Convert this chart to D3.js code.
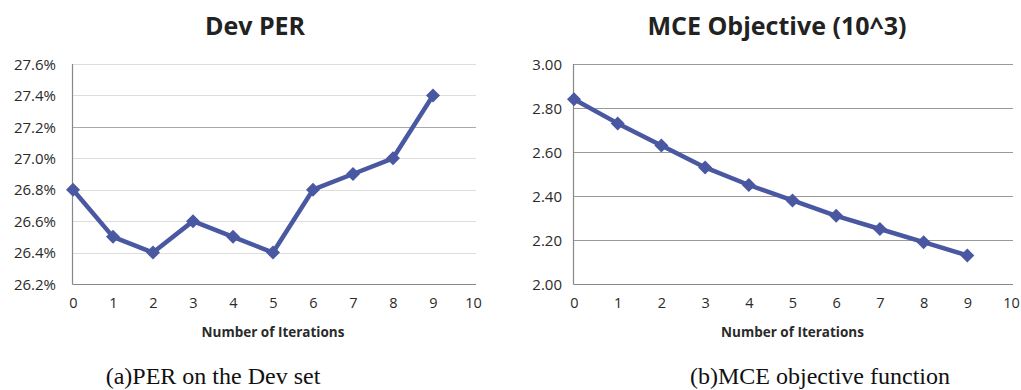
<!DOCTYPE html>
<html>
<head>
<meta charset="utf-8">
<script src="https://cdn.jsdelivr.net/npm/d3@7"></script>
<style>
  html, body { margin: 0; padding: 0; background: #fff; }
  svg { display: block; }
</style>
</head>
<body>
<svg id="chart" width="1021" height="390"></svg>
<script>
// Iteration index shared by both panels
const iterations = [0, 1, 2, 3, 4, 5, 6, 7, 8, 9];
const xTicks = [0, 1, 2, 3, 4, 5, 6, 7, 8, 9, 10];

// Dev-set phone error rate (%) per iteration
const devPER = [26.8, 26.5, 26.4, 26.6, 26.5, 26.4, 26.8, 26.9, 27.0, 27.4];
const perTicks = [26.2, 26.4, 26.6, 26.8, 27.0, 27.2, 27.4, 27.6];

// MCE objective (x10^3) per iteration
const mceObjective = [2.84, 2.73, 2.63, 2.53, 2.45, 2.38, 2.31, 2.25, 2.19, 2.13];
const mceTicks = [2.0, 2.2, 2.4, 2.6, 2.8, 3.0];

const svg = d3.select("#chart");
const lineColor = "#4a58a2";
const uiFont = "'Open Sans', 'DejaVu Sans', sans-serif";

function panel(opts) {
  const g = svg.append("g");
  const x = d3.scaleLinear().domain([0, 10]).range(opts.xRange);
  const y = d3.scaleLinear().domain(opts.yDomain).range([284, 64]);

  // horizontal gridlines
  g.selectAll("line.grid").data(opts.yTicks.slice(1)).join("line")
    .attr("class", "grid")
    .attr("x1", opts.xRange[0]).attr("x2", opts.gridEnd)
    .attr("y1", d => Math.round(y(d)) + 0.5).attr("y2", d => Math.round(y(d)) + 0.5)
    .attr("stroke", (d, i) => opts.gridColor(d, i))
    .attr("stroke-width", 1);

  // y axis
  const yAxis = d3.axisLeft(y).tickValues(opts.yTicks).tickSize(0).tickPadding(0)
    .tickFormat(opts.yFormat);
  const ya = g.append("g").attr("transform", `translate(${opts.yLabelX},0)`).call(yAxis);
  ya.select(".domain").remove();
  ya.selectAll("text").attr("font-family", uiFont).attr("font-size", 15)
    .attr("fill", "#2a2a2a").attr("dy", "0.35em");

  // axis lines
  g.append("line").attr("x1", opts.xRange[0] - 0.5).attr("x2", opts.xRange[0] - 0.5)
    .attr("y1", 64).attr("y2", 284.5).attr("stroke", "#888").attr("stroke-width", 1.2);
  g.append("line").attr("x1", opts.xRange[0] - 0.5).attr("x2", opts.gridEnd)
    .attr("y1", 284.5).attr("y2", 284.5).attr("stroke", "#888").attr("stroke-width", 1.2);

  // x axis labels
  const xAxis = d3.axisBottom(x).tickValues(xTicks).tickSize(0).tickPadding(0)
    .tickFormat(d3.format("d"));
  const xa = g.append("g").attr("transform", "translate(0,298)").call(xAxis);
  xa.select(".domain").remove();
  xa.selectAll("text").attr("font-family", uiFont).attr("font-size", 14.5)
    .attr("fill", "#2a2a2a").attr("dy", "0.71em");

  // x axis title
  g.append("text").attr("x", (opts.xRange[0] + opts.xRange[1]) / 2).attr("y", 337)
    .attr("text-anchor", "middle").attr("font-family", uiFont)
    .attr("font-weight", "bold").attr("font-size", 13.5).attr("fill", "#2a2a2a")
    .text("Number of Iterations");

  // chart title
  g.append("text").attr("x", opts.titleX).attr("y", 35)
    .attr("text-anchor", "middle").attr("font-family", uiFont)
    .attr("font-weight", "bold").attr("font-size", 25).attr("fill", "#222")
    .text(opts.title);

  // caption below the chart
  g.append("text").attr("x", opts.captionX).attr("y", 384)
    .attr("text-anchor", "middle").attr("font-family", "'Liberation Serif', 'Times New Roman', serif")
    .attr("font-size", 24).attr("fill", "#111")
    .text(opts.caption);

  // series line
  const pts = iterations.map((it, i) => [it, opts.values[i]]);
  g.append("path").datum(pts)
    .attr("d", d3.line().x(d => x(d[0])).y(d => y(d[1])))
    .attr("fill", "none").attr("stroke", lineColor).attr("stroke-width", 4.5)
    .attr("stroke-linejoin", "round");

  // diamond markers
  g.selectAll("path.mk").data(pts).join("path")
    .attr("class", "mk")
    .attr("d", d3.symbol().type(d3.symbolDiamond2).size(125))
    .attr("transform", d => `translate(${x(d[0])},${y(d[1])})`)
    .attr("fill", lineColor);
}

panel({
  xRange: [73, 473], gridEnd: 476, yLabelX: 56,
  yDomain: [26.2, 27.6], yTicks: perTicks,
  yFormat: d => d.toFixed(1) + "%",
  gridColor: d => Math.abs(d - 27.2) < 1e-9 ? "#aaa" : "#ddd",
  values: devPER, title: "Dev PER", titleX: 255,
  caption: "(a)PER on the Dev set", captionX: 213
});

panel({
  xRange: [574, 1011], gridEnd: 1013, yLabelX: 562,
  yDomain: [2.0, 3.0], yTicks: mceTicks,
  yFormat: d => d.toFixed(2),
  gridColor: () => "#9a9a9a",
  values: mceObjective, title: "MCE Objective (10^3)", titleX: 777,
  caption: "(b)MCE objective function", captionX: 820
});
</script>
</body>
</html>
